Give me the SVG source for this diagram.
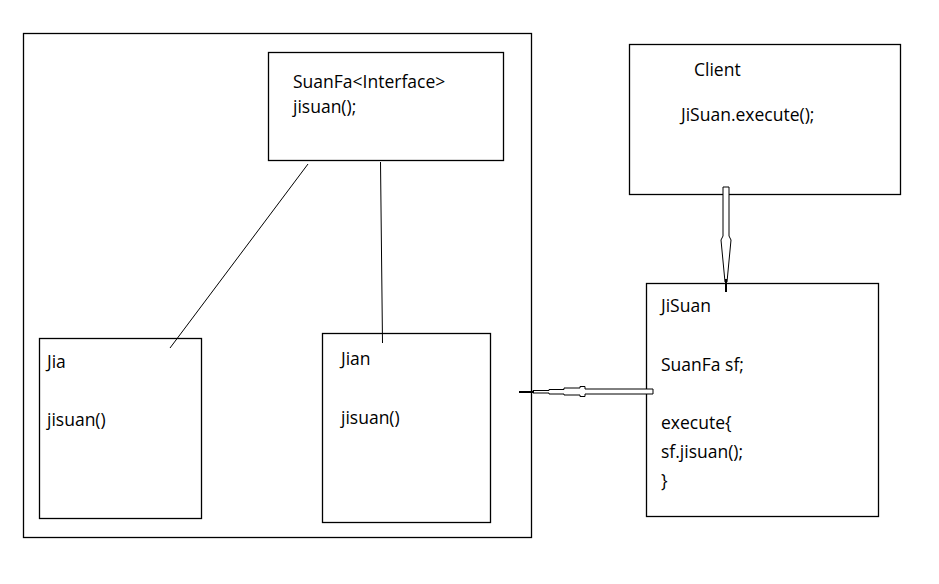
<svg xmlns="http://www.w3.org/2000/svg" width="939" height="584" viewBox="0 0 939 584">
<style>
.box{fill:#fff;stroke:#000;stroke-width:1.3}
.t{font-family:"Open Sans","Noto Sans","DejaVu Sans",sans-serif;font-size:17.5px;fill:#000}
.ln{stroke:#000;stroke-width:1;fill:none}
.arr{fill:#fff;stroke:#000;stroke-width:1}
</style>
<rect width="939" height="584" fill="#fff"/>
<g id="container">
<rect class="box" x="23.5" y="33.5" width="508" height="504"/>
</g>
<g id="suanfa">
<rect class="box" x="268.5" y="52.5" width="235" height="108"/>
<text class="t" x="293" y="88">SuanFa&lt;Interface&gt;</text>
<text class="t" x="293" y="113">jisuan();</text>
</g>
<g id="jia">
<rect class="box" x="39.5" y="338.5" width="162" height="180"/>
<text class="t" x="47" y="368">Jia</text>
<text class="t" x="47" y="426">jisuan()</text>
</g>
<g id="jian">
<rect class="box" x="322.5" y="333.5" width="168" height="189"/>
<text class="t" x="341" y="365">Jian</text>
<text class="t" x="341" y="424">jisuan()</text>
</g>
<g id="client">
<rect class="box" x="629.5" y="44.5" width="271" height="150"/>
<text class="t" x="694" y="76">Client</text>
<text class="t" x="681" y="121">JiSuan.execute();</text>
</g>
<g id="jisuan">
<rect class="box" x="646.5" y="283.5" width="232" height="233"/>
<text class="t" x="661" y="312">JiSuan</text>
<text class="t" x="661" y="371">SuanFa sf;</text>
<text class="t" x="661" y="429">execute{</text>
<text class="t" x="661" y="458">sf.jisuan();</text>
<text class="t" x="661" y="487">}</text>
</g>
<g id="connectors">
<line class="ln" x1="308" y1="164" x2="170" y2="348"/>
<line class="ln" x1="380.5" y1="162" x2="382.5" y2="343"/>
<polygon class="arr" points="723,187 729,187 729,236 731,240 727,282 725,282 721,240 723,236"/>
<line stroke="#000" stroke-width="2" x1="726" y1="279" x2="726" y2="292"/>
<polygon class="arr" points="533,390.5 549,390.5 549,389.5 564,389.5 564,388 580,388 580,386.5 585,386.5 585,389 653,389 653,394 585,394 585,396.5 580,396.5 580,395 564,395 564,394 549,394 549,393 533,393"/>
<line stroke="#000" stroke-width="2" x1="519" y1="392" x2="534" y2="392"/>
</g>
</svg>
